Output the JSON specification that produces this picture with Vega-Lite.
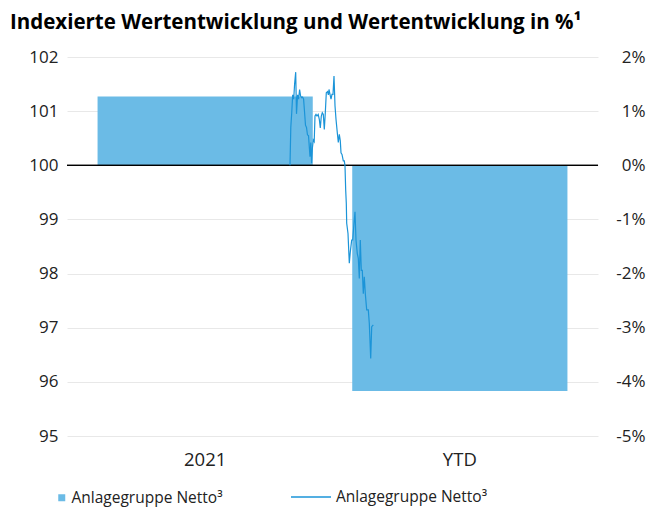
{
  "$schema": "https://vega.github.io/schema/vega-lite/v6.json",
  "autosize": "none",
  "width": 531,
  "height": 379,
  "padding": {"left": 67, "top": 57, "right": 51, "bottom": 72},
  "background": "white",
  "title": {
    "text": "Indexierte Wertentwicklung und Wertentwicklung in %¹",
    "anchor": "start",
    "frame": "group",
    "dx": -57,
    "offset": 15,
    "font": "Open Sans",
    "fontSize": 20.5,
    "fontWeight": "bold",
    "color": "#000000"
  },
  "config": {
    "view": {"stroke": null},
    "font": "Open Sans",
    "axis": {"labelFont": "Open Sans", "labelColor": "#222222", "labelFontSize": 17, "domain": false, "ticks": false, "title": null},
    "legend": {"labelFont": "Open Sans", "labelFontSize": 15.5, "labelColor": "#222222", "labelLimit": 300, "title": null}
  },
  "datasets": {
    "balken": [
      {"periode": "2021", "wert": 1.27, "reihe": "Anlagegruppe Netto³"},
      {"periode": "YTD", "wert": -4.17, "reihe": "Anlagegruppe Netto³"}
    ],
    "verlauf": [
      {"t": 223.0, "v": 100.00}, {"t": 223.8, "v": 100.70}, {"t": 224.7, "v": 100.96}, {"t": 225.7, "v": 101.30},
      {"t": 226.7, "v": 101.22}, {"t": 227.6, "v": 101.50}, {"t": 228.7, "v": 101.72}, {"t": 229.5, "v": 100.95},
      {"t": 230.6, "v": 101.30}, {"t": 231.6, "v": 101.22}, {"t": 232.6, "v": 101.40}, {"t": 233.6, "v": 101.28},
      {"t": 234.6, "v": 101.25}, {"t": 235.6, "v": 101.26}, {"t": 236.6, "v": 101.22}, {"t": 237.4, "v": 101.02},
      {"t": 238.5, "v": 100.74}, {"t": 239.5, "v": 100.70}, {"t": 240.5, "v": 100.56}, {"t": 241.5, "v": 100.55},
      {"t": 242.3, "v": 100.34}, {"t": 243.0, "v": 100.16}, {"t": 243.8, "v": 100.42}, {"t": 244.6, "v": 100.04},
      {"t": 245.4, "v": 100.32}, {"t": 246.3, "v": 100.47}, {"t": 247.2, "v": 100.44}, {"t": 248.0, "v": 100.91},
      {"t": 249.0, "v": 100.94}, {"t": 250.0, "v": 100.91}, {"t": 251.2, "v": 100.94}, {"t": 252.3, "v": 100.85},
      {"t": 253.3, "v": 100.69}, {"t": 254.3, "v": 100.91}, {"t": 255.3, "v": 100.97}, {"t": 256.3, "v": 100.94},
      {"t": 257.3, "v": 100.66}, {"t": 258.3, "v": 100.97}, {"t": 259.3, "v": 101.34}, {"t": 260.5, "v": 101.36},
      {"t": 261.4, "v": 101.30}, {"t": 262.0, "v": 101.40}, {"t": 263.0, "v": 101.31}, {"t": 264.0, "v": 101.22},
      {"t": 265.0, "v": 101.31}, {"t": 266.0, "v": 101.31}, {"t": 267.0, "v": 101.65}, {"t": 268.0, "v": 101.10},
      {"t": 269.0, "v": 100.85}, {"t": 270.3, "v": 100.60}, {"t": 271.3, "v": 100.42}, {"t": 272.3, "v": 100.57},
      {"t": 273.3, "v": 100.45}, {"t": 274.0, "v": 100.23}, {"t": 275.0, "v": 100.20}, {"t": 276.3, "v": 100.08},
      {"t": 277.3, "v": 100.08}, {"t": 278.0, "v": 99.99}, {"t": 278.7, "v": 99.54}, {"t": 279.3, "v": 99.30},
      {"t": 279.7, "v": 98.93}, {"t": 281.0, "v": 98.74}, {"t": 282.3, "v": 98.19}, {"t": 283.3, "v": 98.40},
      {"t": 284.7, "v": 98.62}, {"t": 285.7, "v": 98.62}, {"t": 287.0, "v": 98.93}, {"t": 288.0, "v": 99.14},
      {"t": 289.0, "v": 98.62}, {"t": 290.3, "v": 98.37}, {"t": 291.3, "v": 98.28}, {"t": 292.3, "v": 97.91},
      {"t": 293.3, "v": 98.62}, {"t": 294.3, "v": 98.06}, {"t": 295.3, "v": 98.06}, {"t": 296.3, "v": 97.63},
      {"t": 297.3, "v": 97.94}, {"t": 298.3, "v": 97.63}, {"t": 299.7, "v": 97.33}, {"t": 301.3, "v": 97.33},
      {"t": 302.3, "v": 97.08}, {"t": 303.7, "v": 96.43}, {"t": 304.7, "v": 97.02}, {"t": 306.3, "v": 97.05}
    ]
  },
  "layer": [
    {
      "data": {"name": "balken"},
      "layer": [
        {
          "mark": {"type": "bar", "color": "#6bbbe6"},
          "encoding": {
            "x": {
              "field": "periode", "type": "nominal", "sort": ["2021", "YTD"],
              "scale": {"paddingInner": 0.155, "paddingOuter": 0.12},
              "axis": {"orient": "bottom", "labelAngle": 0, "labelPadding": 14, "labelFontSize": 18.5, "grid": false}
            },
            "y": {
              "field": "wert", "type": "quantitative",
              "scale": {"domain": [-5, 2], "nice": false, "zero": false},
              "axis": {"orient": "right", "values": [-5, -4, -3, -2, -1, 0, 1, 2], "labelExpr": "datum.value + '%'", "labelAlign": "right", "labelPadding": 47, "grid": false}
            },
            "color": {
              "field": "reihe", "type": "nominal",
              "scale": {"range": ["#6bbbe6"]},
              "legend": {"orient": "none", "legendX": -13, "legendY": 433, "symbolType": "square", "symbolSize": 49, "labelOffset": 2}
            }
          }
        },
        {
          "mark": {"type": "rule", "color": "#000000", "strokeWidth": 1.2},
          "encoding": {"y": {"datum": 0}}
        }
      ]
    },
    {
      "data": {"name": "verlauf"},
      "mark": {"type": "line", "strokeWidth": 1.2, "interpolate": "linear"},
      "encoding": {
        "x": {"field": "t", "type": "quantitative", "scale": {"domain": [0, 531], "nice": false, "zero": false}, "axis": null},
        "y": {
          "field": "v", "type": "quantitative",
          "scale": {"domain": [95, 102], "nice": false, "zero": false},
          "axis": {"orient": "left", "values": [95, 96, 97, 98, 99, 100, 101, 102], "labelPadding": 9, "grid": true, "gridColor": "#e8e8e8", "gridWidth": 1}
        },
        "color": {
          "datum": "Anlagegruppe Netto³",
          "scale": {"range": ["#1b94d8"]},
          "legend": {"orient": "none", "legendX": 223, "legendY": 419, "symbolType": "stroke", "symbolSize": 1600, "symbolStrokeWidth": 1.5, "labelOffset": 4}
        }
      }
    }
  ],
  "resolve": {
    "scale": {"x": "independent", "y": "independent", "color": "independent"},
    "axis": {"y": "independent", "x": "independent"},
    "legend": {"color": "independent"}
  }
}
